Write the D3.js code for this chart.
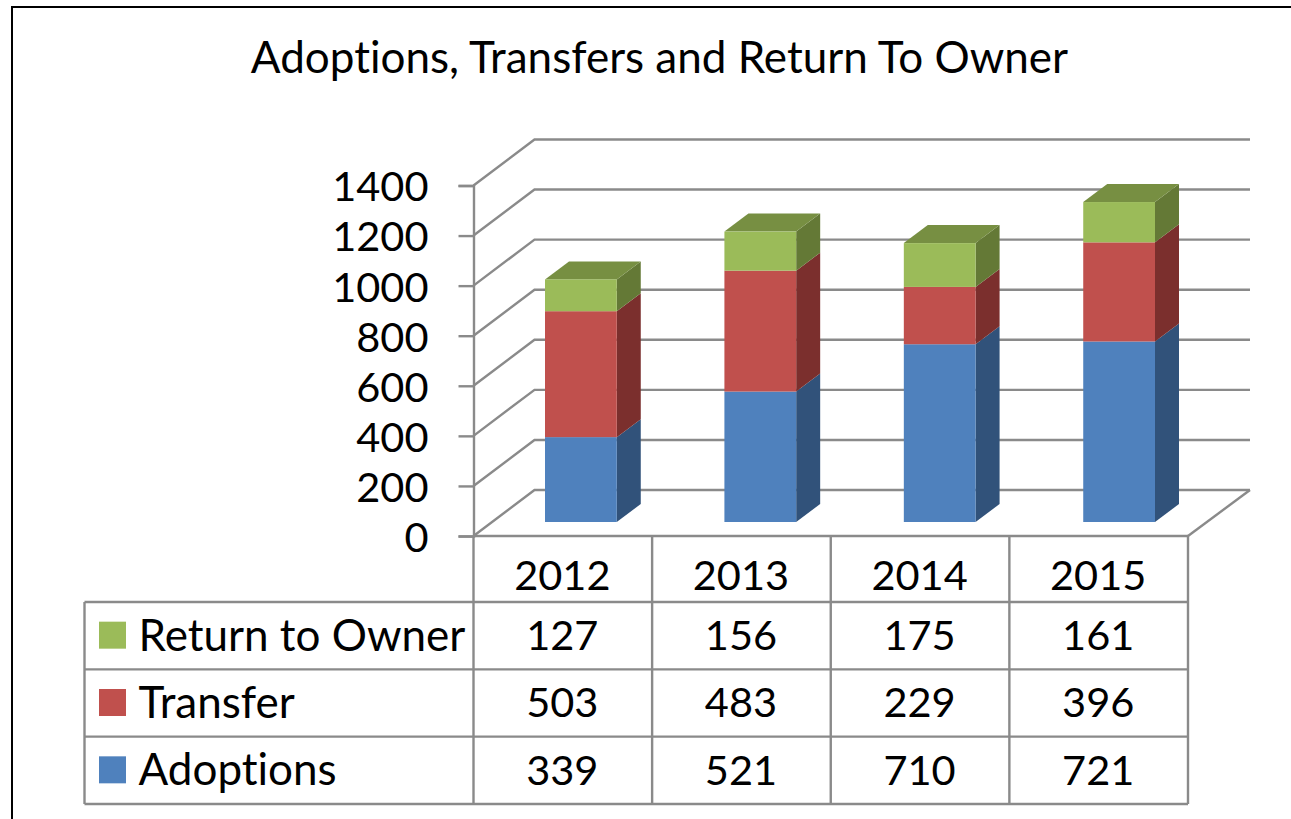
<!DOCTYPE html>
<html>
<head>
<meta charset="utf-8">
<script src="https://cdn.jsdelivr.net/npm/d3@7"></script>
<style>
  html, body { margin: 0; padding: 0; background: #fff; overflow: hidden; }
  text { font-family: Lato, "Open Sans", sans-serif; fill: #000; font-variant-ligatures: none; }
</style>
</head>
<body>
<div id="chart"></div>
<script>
const years = ["2012", "2013", "2014", "2015"];
const seriesNames = ["Adoptions", "Transfer", "Return to Owner"];
const adoptions = [339, 521, 710, 721];
const transfer = [503, 483, 229, 396];
const returnToOwner = [127, 156, 175, 161];
const yTicks = [0, 200, 400, 600, 800, 1000, 1200, 1400];

const width = 1291, height = 819;
const gridColor = "#8a8a8a";
const gridWidth = 2.4;
const digitSize = "41.5px";
const labelSize = "44px";

const svg = d3.select("#chart").append("svg")
  .attr("width", width)
  .attr("height", height);

// Outer frame, only top and left sides show in the picture
svg.append("path")
  .attr("d", "M12,819V7H1291")
  .attr("fill", "none")
  .attr("stroke", "#000")
  .attr("stroke-width", 2);

svg.append("text")
  .attr("x", 659.5)
  .attr("y", 73)
  .attr("text-anchor", "middle")
  .style("font-size", labelSize)
  .text("Adoptions, Transfers and Return To Owner");

// Scales
const y = d3.scaleLinear().domain([0, 1400]).range([536, 185.5]);
const x = d3.scaleBand().domain(years).range([473.5, 1188]);
const barX = d3.scaleBand().domain(years).range([545, 1155]).paddingInner(0.6);

// 3D offsets: wall depth and bar depth
const wallDx = 61, wallDy = -46;
const barDx = 24, barDy = -18;
const barBase = -14;

// Gridlines on side wall and back wall
yTicks.forEach(t => {
  svg.append("path")
    .attr("d", `M473.5,${y(t)}L${473.5 + wallDx},${y(t) + wallDy}H1250`)
    .attr("fill", "none")
    .attr("stroke", gridColor)
    .attr("stroke-width", gridWidth);
});
svg.append("line")
  .attr("x1", 1188).attr("y1", y(0))
  .attr("x2", 1188 + wallDx + 1).attr("y2", y(0) + wallDy)
  .attr("stroke", gridColor).attr("stroke-width", gridWidth);

// y axis built with d3
const yAxis = d3.axisLeft(y).tickValues(yTicks).tickSize(15).tickPadding(30).tickFormat(d3.format("d"));
const yG = svg.append("g").attr("transform", "translate(473.5,0)").call(yAxis);
yG.selectAll(".domain").attr("stroke", gridColor).attr("stroke-width", gridWidth);
yG.selectAll(".tick line").attr("stroke", gridColor).attr("stroke-width", gridWidth);
yG.selectAll(".tick text").style("font-size", digitSize).attr("dy", "0.37em");

// Stacked 3D bars
const colors = {
  "Adoptions": { front: "#4f81bd", side: "#31527a", top: "#3f6797" },
  "Transfer": { front: "#c0504d", side: "#7b2f2d", top: "#9a403e" },
  "Return to Owner": { front: "#9bbb59", side: "#647936", top: "#778f42" }
};
const rows = years.map((yr, i) => ({
  year: yr,
  "Adoptions": adoptions[i],
  "Transfer": transfer[i],
  "Return to Owner": returnToOwner[i]
}));
const stacked = d3.stack().keys(seriesNames)(rows);

stacked.forEach((layer, li) => {
  const c = colors[layer.key];
  layer.forEach(d => {
    const x0 = barX(d.data.year);
    const x1 = x0 + barX.bandwidth();
    const yb = y(d[0]) + barBase;
    const yt = y(d[1]) + barBase;
    const g = svg.append("g");
    g.append("path")
      .attr("d", `M${x1},${yb}L${x1 + barDx},${yb + barDy}V${yt + barDy}L${x1},${yt}Z`)
      .attr("fill", c.side);
    if (li === seriesNames.length - 1) {
      g.append("path")
        .attr("d", `M${x0},${yt}L${x0 + barDx},${yt + barDy}H${x1 + barDx}L${x1},${yt}Z`)
        .attr("fill", c.top);
    }
    g.append("rect")
      .attr("x", x0).attr("y", yt)
      .attr("width", barX.bandwidth()).attr("height", yb - yt)
      .attr("fill", c.front);
  });
});

// Data table
const tableRows = [
  { name: "Return to Owner", values: returnToOwner },
  { name: "Transfer", values: transfer },
  { name: "Adoptions", values: adoptions }
];
const rowY = d3.scaleBand().domain(tableRows.map(d => d.name)).range([602, 804]);
const tableLeft = 84.5;
const vLines = [...years.map(v => x(v)), x.range()[1]];

const gridLines = svg.append("g").attr("stroke", gridColor).attr("stroke-width", gridWidth);
vLines.forEach(v => {
  gridLines.append("line").attr("x1", v).attr("x2", v).attr("y1", 536).attr("y2", 804);
});
gridLines.append("line").attr("x1", tableLeft).attr("x2", tableLeft).attr("y1", 602).attr("y2", 804);
gridLines.append("line").attr("x1", 473.5).attr("x2", 1188).attr("y1", 536).attr("y2", 536);
[602, 602 + rowY.bandwidth(), 602 + 2 * rowY.bandwidth(), 804].forEach(v => {
  gridLines.append("line").attr("x1", tableLeft).attr("x2", 1188).attr("y1", v).attr("y2", v);
});

svg.selectAll(".year").data(years).join("text")
  .attr("class", "year")
  .attr("x", d => x(d) + x.bandwidth() / 2 - 0.5)
  .attr("y", 575)
  .attr("dy", "0.36em")
  .attr("text-anchor", "middle")
  .style("font-size", digitSize)
  .text(d => d);

tableRows.forEach(r => {
  const cy = rowY(r.name) + rowY.bandwidth() / 2;
  svg.append("rect")
    .attr("x", 99).attr("y", cy - 14)
    .attr("width", 27).attr("height", 27)
    .attr("fill", colors[r.name].front);
  svg.append("text")
    .attr("x", 138.5).attr("y", cy + 15)
    .style("font-size", labelSize)
    .text(r.name);
  r.values.forEach((v, i) => {
    svg.append("text")
      .attr("x", x(years[i]) + x.bandwidth() / 2 - 0.5)
      .attr("y", cy - 0.5)
      .attr("dy", "0.36em")
      .attr("text-anchor", "middle")
      .style("font-size", digitSize)
      .text(v);
  });
});
</script>
</body>
</html>
